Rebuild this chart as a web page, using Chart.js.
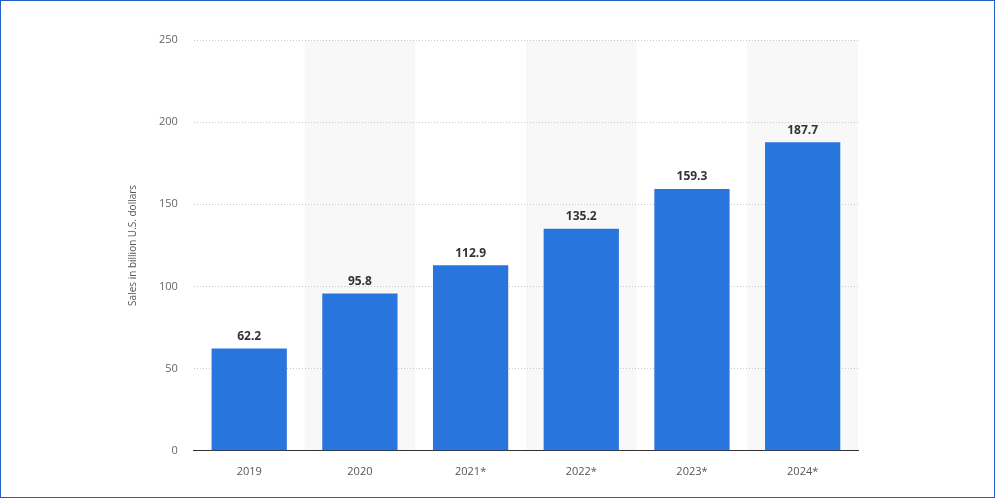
<!DOCTYPE html>
<html>
<head>
<meta charset="utf-8">
<script src="https://cdn.jsdelivr.net/npm/chart.js@4"></script>
<style>
  html, body { margin: 0; padding: 0; background: #fff; }
  #wrap { position: absolute; left: 0; top: 0; width: 993px; height: 496px; border: 1px solid #1f5fbf; }
  canvas { display: block; }
</style>
</head>
<body>
<div id="wrap"><canvas id="chart" width="993" height="496"></canvas></div>
<script>
const years = ['2019', '2020', '2021*', '2022*', '2023*', '2024*'];
const sales = [62.2, 95.8, 112.9, 135.2, 159.3, 187.7];
const yTicks = [0, 50, 100, 150, 200, 250];

// shaded background for every other category
const bandPlugin = {
    id: 'bands',
    beforeDraw(chart) {
        const { ctx, chartArea, scales } = chart;
        const x = scales.x;
        const step = x.width / years.length;
        ctx.save();
        ctx.fillStyle = '#f8f8f8';
        years.forEach((y, i) => {
            if (i % 2 === 1) {
                const c = x.getPixelForValue(i);
                ctx.fillRect(c - step / 2, chartArea.top, step, chartArea.bottom - chartArea.top);
            }
        });
        ctx.restore();
    }
};

const labelPlugin = {
    id: 'labels',
    afterDatasetsDraw(chart) {
        const { ctx } = chart;
        const meta = chart.getDatasetMeta(0);
        ctx.save();
        ctx.font = 'bold 12px "Open Sans", sans-serif';
        ctx.fillStyle = '#333';
        ctx.textAlign = 'center';
        ctx.textBaseline = 'bottom';
        meta.data.forEach((bar, i) => {
            ctx.fillText(sales[i].toFixed(1), bar.x, bar.y - 6);
        });
        ctx.restore();
    }
};

new Chart(document.getElementById('chart'), {
    type: 'bar',
    data: {
        labels: years,
        datasets: [{
            data: sales,
            backgroundColor: '#2876dd',
            barPercentage: 0.68,
            categoryPercentage: 1.0
        }]
    },
    options: {
        responsive: false,
        animation: false,
        layout: { padding: { left: 122, right: 136, top: 39, bottom: 13 } },
        plugins: { legend: { display: false }, tooltip: { enabled: false } },
        scales: {
            x: {
                grid: { display: false },
                border: { color: '#333', width: 1 },
                ticks: { color: '#555', font: { family: 'Open Sans', size: 11 }, padding: 6 }
            },
            y: {
                min: 0, max: 250,
                afterBuildTicks(axis) { axis.ticks = yTicks.map(v => ({ value: v })); },
                grid: { color: '#c8c8c8', borderDash: [1, 2], drawTicks: false },
                border: { display: false, dash: [1, 2] },
                ticks: { color: '#666', font: { family: 'Open Sans', size: 11 }, padding: 16 },
                title: { display: true, text: 'Sales in billion U.S. dollars', color: '#555', font: { family: 'Open Sans', size: 10 } }
            }
        }
    },
    plugins: [bandPlugin, labelPlugin]
});
</script>
</body>
</html>
